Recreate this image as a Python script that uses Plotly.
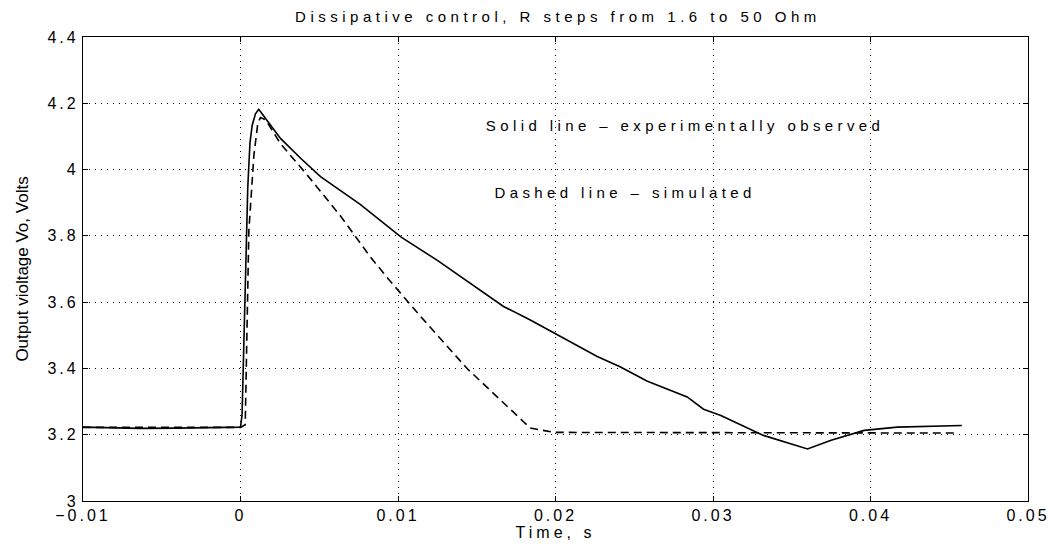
import plotly.graph_objects as go

# ---- data ----
solid_t = [-0.0100, -0.0080, -0.0064, -0.0040, -0.0020, -0.0005, 0.0000, 0.0001, 0.0002,
           0.00032, 0.00046, 0.00060, 0.00074, 0.00095, 0.00116, 0.0015, 0.00254, 0.0038,
           0.00508, 0.0076, 0.0102, 0.0125, 0.0149, 0.0167, 0.0184, 0.0205, 0.02265, 0.0241,
           0.0258, 0.02836, 0.0294, 0.0305, 0.0332, 0.0360, 0.0375, 0.0396, 0.0417, 0.0458]
solid_v = [3.223, 3.221, 3.219, 3.220, 3.222, 3.224, 3.223, 3.26, 3.45,
           3.652, 3.944, 4.080, 4.133, 4.168, 4.182, 4.160, 4.094, 4.035,
           3.979, 3.895, 3.796, 3.726, 3.647, 3.587, 3.546, 3.491, 3.436, 3.405,
           3.362, 3.314, 3.277, 3.258, 3.198, 3.157, 3.183, 3.213, 3.223, 3.228]

dashed_t = [-0.0100, 0.0000, 0.0003, 0.0004, 0.00053, 0.00085, 0.00110, 0.00127, 0.0016,
            0.00254, 0.00423, 0.00635, 0.00825, 0.00942, 0.01143, 0.0144, 0.01735, 0.0184,
            0.0199, 0.0455]
dashed_v = [3.222, 3.222, 3.230, 3.450, 3.815, 4.043, 4.140, 4.157, 4.150,
            4.078, 3.984, 3.860, 3.736, 3.668, 3.557, 3.399, 3.265, 3.220,
            3.207, 3.205]

x_tickvals = [-0.01, 0, 0.01, 0.02, 0.03, 0.04, 0.05]
x_ticktext = ["\u22120.01", "0", "0.01", "0.02", "0.03", "0.04", "0.05"]
y_tickvals = [3.0, 3.2, 3.4, 3.6, 3.8, 4.0, 4.2, 4.4]
y_ticktext = ["3", "3.2", "3.4", "3.6", "3.8", "4", "4.2", "4.4"]

title_text = "Dissipative control, R steps from 1.6 to 50 Ohm"
x_title = "Time, s"
y_title = "Output violtage Vo, Volts"
note_solid = "Solid line \u2013 experimentally observed"
note_dashed = "Dashed line \u2013 simulated"

FONT = "Liberation Sans, Arial, Helvetica, sans-serif"

fig = go.Figure()
fig.add_trace(go.Scatter(x=solid_t, y=solid_v, mode="lines",
                         line=dict(color="black", width=1.6), showlegend=False))
fig.add_trace(go.Scatter(x=dashed_t, y=dashed_v, mode="lines",
                         line=dict(color="black", width=1.6, dash="8px,5px"), showlegend=False))

axis_common = dict(
    showline=True, linecolor="black", linewidth=1.3, mirror="allticks",
    ticks="inside", ticklen=5, tickcolor="black", tickwidth=1,
    showgrid=True, gridcolor="black", gridwidth=1, griddash="1px,5px",
    zeroline=False, tickfont=dict(family=FONT, size=16, color="black"),
)

fig.update_layout(
    width=1060, height=548,
    margin=dict(l=83, r=32, t=37, b=41),
    paper_bgcolor="white", plot_bgcolor="white",
    title=dict(text=title_text, x=0.5026, xref="paper", y=1 - 17 / 548, yref="container",
               xanchor="center", yanchor="middle",
               font=dict(family=FONT, size=15, color="black")),
    xaxis=dict(range=[-0.01, 0.05], tickvals=x_tickvals, ticktext=x_ticktext,
               title=dict(text=x_title, standoff=0, font=dict(family=FONT, size=16, color="black")),
               **axis_common),
    yaxis=dict(range=[3.0, 4.4], tickvals=y_tickvals, ticktext=y_ticktext,
               title=dict(text=y_title, standoff=23, font=dict(family=FONT, size=17, color="black")),
               **axis_common),
    annotations=[
        dict(x=0.02825, y=4.132, xref="x", yref="y", text=note_solid, showarrow=False,
             xanchor="center", yanchor="middle", font=dict(family=FONT, size=15, color="black")),
        dict(x=0.02444, y=3.93, xref="x", yref="y", text=note_dashed, showarrow=False,
             xanchor="center", yanchor="middle", font=dict(family=FONT, size=15, color="black")),
    ],
)

css = (".gtitle{letter-spacing:4.5px} .annotation-text{letter-spacing:4.4px} "
       ".xtick text,.ytick text{letter-spacing:3px} .xtitle{letter-spacing:4px}")
post = ("var s=document.createElement('style');s.textContent='" + css + "';"
        "document.head.appendChild(s);")

fig.write_html("out.html", post_script=post)
